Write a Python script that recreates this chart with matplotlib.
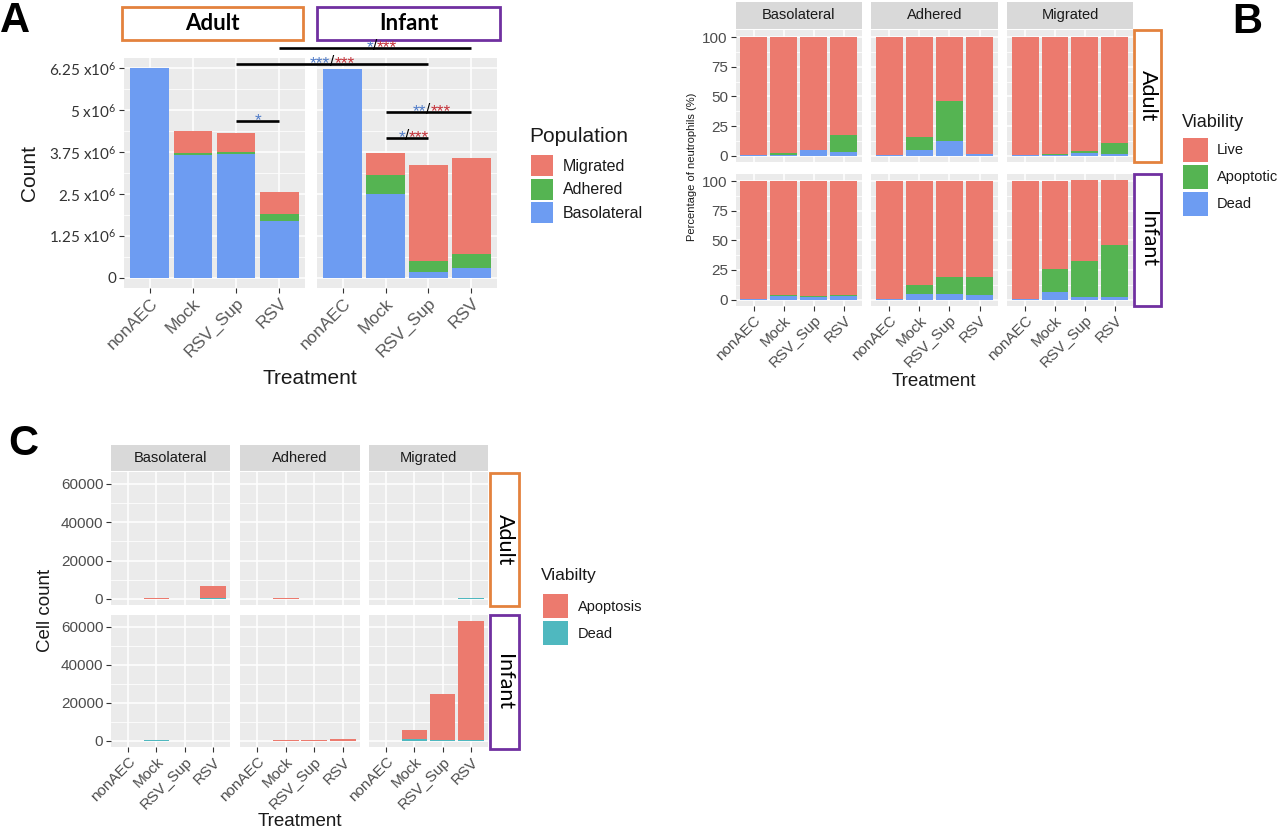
import numpy as np
import matplotlib.pyplot as plt
from matplotlib.patches import Rectangle

plt.rcParams['font.family'] = ['Liberation Sans', 'DejaVu Sans']
plt.rcParams['mathtext.default'] = 'regular'

W, H = 1280, 832

treatments = ["nonAEC", "Mock", "RSV_Sup", "RSV"]
groups = ["Adult", "Infant"]
locations = ["Basolateral", "Adhered", "Migrated"]

# Panel A: neutrophil counts (x10^6), stacked by population
a_baso = {"Adult": [6.25, 3.66, 3.68, 1.70], "Infant": [6.24, 2.49, 0.17, 0.29]}
a_adh = {"Adult": [0.0, 0.07, 0.06, 0.20], "Infant": [0.0, 0.57, 0.32, 0.42]}
a_mig = {"Adult": [0.0, 0.65, 0.58, 0.65], "Infant": [0.0, 0.65, 2.87, 2.87]}
a_ticks = [0, 1.25, 2.5, 3.75, 5, 6.25]
a_ticklabels = ["0", "1.25 x10$^{6}$", "2.5 x10$^{6}$", "3.75 x10$^{6}$", "5 x10$^{6}$", "6.25 x10$^{6}$"]

# significance bars: (group start, treatment start, group end, treatment end, height, blue stars, red stars)
sig_bars = [
    ("Adult", "RSV_Sup", "Adult", "RSV", 4.67, "*", ""),
    ("Adult", "RSV", "Infant", "RSV", 6.85, "*", "***"),
    ("Adult", "RSV_Sup", "Infant", "RSV_Sup", 6.39, "***", "***"),
    ("Infant", "Mock", "Infant", "RSV", 4.95, "**", "***"),
    ("Infant", "Mock", "Infant", "RSV_Sup", 4.17, "*", "***"),
]

# Panel B: percentage of neutrophils by viability
b_dead = {
    "Adult": {"Basolateral": [0.6, 0.6, 4.7, 3.0], "Adhered": [0.6, 4.7, 12.5, 1.4], "Migrated": [0.6, 0.6, 2.0, 1.4]},
    "Infant": {"Basolateral": [0.8, 2.8, 1.9, 2.8], "Adhered": [0.8, 4.4, 4.4, 3.6], "Migrated": [0.8, 6.1, 2.5, 2.5]},
}
b_apo = {
    "Adult": {"Basolateral": [0.1, 1.6, 0.5, 14.8], "Adhered": [0.0, 10.8, 33.9, 0.0], "Migrated": [0.0, 0.8, 2.2, 9.4]},
    "Infant": {"Basolateral": [0.0, 1.1, 0.9, 1.1], "Adhered": [0.0, 8.1, 14.8, 15.0], "Migrated": [0.0, 19.9, 30.0, 43.9]},
}
b_live = {
    "Adult": {"Basolateral": [99.3, 97.8, 94.8, 82.7], "Adhered": [99.4, 84.5, 53.6, 98.6], "Migrated": [99.4, 98.6, 95.8, 89.7]},
    "Infant": {"Basolateral": [99.2, 96.1, 97.2, 96.1], "Adhered": [99.2, 87.5, 80.8, 81.4], "Migrated": [99.2, 74.0, 68.9, 55.0]},
}

# Panel C: cell counts of non-viable neutrophils
c_apo = {
    "Adult": {"Basolateral": [0, 300, 0, 6000], "Adhered": [0, 300, 0, 0], "Migrated": [0, 0, 0, 200]},
    "Infant": {"Basolateral": [0, 0, 0, 0], "Adhered": [0, 500, 500, 1100], "Migrated": [0, 4800, 24500, 62600]},
}
c_dead = {
    "Adult": {"Basolateral": [0, 0, 0, 500], "Adhered": [0, 0, 0, 0], "Migrated": [0, 0, 0, 500]},
    "Infant": {"Basolateral": [0, 400, 0, 0], "Adhered": [0, 0, 0, 0], "Migrated": [0, 900, 300, 400]},
}

RED, GREEN, BLUE, TEAL = "#EC7A6E", "#55B452", "#6D9CF2", "#4FB8BF"
PANEL, STRIP = "#EBEBEB", "#D9D9D9"
ORANGE, PURPLE = "#E3823D", "#7030A0"
STAR_BLUE, STAR_RED = "#4F7BC8", "#C43038"

fig = plt.figure(figsize=(W / 100, H / 100), dpi=100)


def px_ax(x0, y0, x1, y1):
    return fig.add_axes([x0 / W, 1 - y1 / H, (x1 - x0) / W, (y1 - y0) / H])


def style(ax, ymax, major, minor, show_x, show_y, fs):
    ax.set_facecolor(PANEL)
    for s in ax.spines.values():
        s.set_visible(False)
    ax.set_xlim(-0.6, len(treatments) - 0.4)
    ax.set_ylim(-0.05 * ymax, 1.05 * ymax)
    ax.set_xticks(range(len(treatments)))
    ax.set_yticks(major)
    ax.set_yticks(minor, minor=True)
    ax.grid(True, which="major", color="white", lw=1.1)
    ax.grid(True, which="minor", axis="y", color="white", lw=0.55)
    ax.set_axisbelow(True)
    ax.tick_params(which="minor", length=0)
    ax.tick_params(which="major", color="#333333", length=3.5, width=0.8,
                   labelcolor="#4D4D4D", pad=2, labelsize=fs)
    if show_x:
        ax.set_xticklabels(treatments, rotation=45, ha="right", rotation_mode="anchor")
    else:
        ax.tick_params(axis="x", length=0, labelbottom=False)
    if not show_y:
        ax.tick_params(axis="y", length=0, labelleft=False)


x = np.arange(len(treatments))

# ---------- Panel A ----------
axA = {"Adult": px_ax(124, 58, 305, 288), "Infant": px_ax(317, 58, 497, 288)}
a_max = max((np.array(a_baso[g]) + np.array(a_adh[g]) + np.array(a_mig[g])).max() for g in groups)
for g in groups:
    ax = axA[g]
    bas, adh, mig = np.array(a_baso[g]), np.array(a_adh[g]), np.array(a_mig[g])
    ax.bar(x, bas, width=0.9, color=BLUE)
    ax.bar(x, adh, bottom=bas, width=0.9, color=GREEN)
    ax.bar(x, mig, bottom=bas + adh, width=0.9, color=RED)
    style(ax, a_max, a_ticks, np.arange(0.625, 6.6, 1.25), True, g == "Adult", 12.5)
    ax.tick_params(axis="x", labelcolor="#5A5A5A")
axA["Adult"].set_yticklabels(a_ticklabels, family="Lato", fontsize=11, color="#333333")

# ---------- Panel B ----------
b_cols = [(735.5, 861.8), (871.3, 997.6), (1007.2, 1132.7)]
b_rows = [(29.5, 161.7), (173.5, 305.5)]
b_max = 101.4
for r, g in enumerate(groups):
    for c, loc in enumerate(locations):
        ax = px_ax(b_cols[c][0], b_rows[r][0], b_cols[c][1], b_rows[r][1])
        d, a, l = np.array(b_dead[g][loc]), np.array(b_apo[g][loc]), np.array(b_live[g][loc])
        ax.bar(x, d, width=0.9, color=BLUE)
        ax.bar(x, a, bottom=d, width=0.9, color=GREEN)
        ax.bar(x, l, bottom=d + a, width=0.9, color=RED)
        style(ax, b_max, [0, 25, 50, 75, 100], [12.5, 37.5, 62.5, 87.5], r == 1, c == 0, 11)

# ---------- Panel C ----------
c_cols = [(111, 230), (240, 360), (369, 488)]
c_rows = [(472, 605), (615, 747)]
c_max = max((np.array(c_apo[g][l]) + np.array(c_dead[g][l])).max() for g in groups for l in locations)
for r, g in enumerate(groups):
    for c, loc in enumerate(locations):
        ax = px_ax(c_cols[c][0], c_rows[r][0], c_cols[c][1], c_rows[r][1])
        d, a = np.array(c_dead[g][loc]), np.array(c_apo[g][loc])
        ax.bar(x, d, width=0.9, color=TEAL)
        ax.bar(x, a, bottom=d, width=0.9, color=RED)
        style(ax, c_max, [0, 20000, 40000, 60000], [10000, 30000, 50000], r == 1, c == 0, 11)
        if c == 0:
            ax.set_yticklabels(["0", "20000", "40000", "60000"])

# ---------- overlay in pixel coordinates ----------
ov = fig.add_axes([0, 0, 1, 1])
ov.set_xlim(0, W)
ov.set_ylim(H, 0)
ov.axis("off")
ov.patch.set_alpha(0)


def to_px(ax, xv, yv):
    return ov.transData.inverted().transform(ax.transData.transform((xv, yv)))


# significance bars
for g0, t0, g1, t1, hgt, blue, red in sig_bars:
    x0, y0 = to_px(axA[g0], treatments.index(t0), hgt)
    x1, _ = to_px(axA[g1], treatments.index(t1), hgt)
    ov.plot([x0, x1], [y0, y0], color="black", lw=1.9, solid_capstyle="butt")
    mx = (x0 + x1) / 2
    if red:
        ov.text(mx - 2, y0 + 4, blue, color=STAR_BLUE, ha="right", va="baseline", fontsize=12.5)
        ov.text(mx, y0 - 2, "/", color="black", ha="center", va="center", fontsize=11)
        ov.text(mx + 2, y0 + 4, red, color=STAR_RED, ha="left", va="baseline", fontsize=12.5)
    else:
        ov.text(mx, y0 + 4, blue, color=STAR_BLUE, ha="center", va="baseline", fontsize=12.5)


def box(x0, y0, x1, y1, color, label, rot, fs, weight):
    ov.add_patch(Rectangle((x0, y0), x1 - x0, y1 - y0, facecolor="white", edgecolor=color, lw=2))
    ov.text((x0 + x1) / 2, (y0 + y1) / 2, label, ha="center", va="center", rotation=rot,
            fontsize=fs, fontweight=weight, family="Lato")


box(122, 7, 303, 40, ORANGE, "Adult", 0, 16, "bold")
box(317, 7, 500, 40, PURPLE, "Infant", 0, 16, "bold")
box(1134, 29.5, 1161, 161.7, ORANGE, "Adult", -90, 15.5, "normal")
box(1134, 173.5, 1161, 305.5, PURPLE, "Infant", -90, 15.5, "normal")
box(490, 473, 519, 606, ORANGE, "Adult", -90, 15.5, "normal")
box(490, 615, 519, 749, PURPLE, "Infant", -90, 15.5, "normal")

# facet strips
for c, loc in enumerate(locations):
    for (xa, xb), (ya, yb) in [(b_cols[c], (2, 28.5)), (c_cols[c], (445, 471))]:
        ov.add_patch(Rectangle((xa, ya), xb - xa, yb - ya, facecolor=STRIP, edgecolor="none"))
        ov.text((xa + xb) / 2, (ya + yb) / 2, loc, ha="center", va="center", fontsize=10.5, color="#1A1A1A")


def legend(title, tx, ty, fs_t, labels, colors, kx, ky0, ksize, kstep, lx, fs_l):
    ov.text(tx, ty, title, ha="left", va="baseline", fontsize=fs_t, color="#1A1A1A")
    for i, (lab, col) in enumerate(zip(labels, colors)):
        ky = ky0 + i * kstep
        ov.add_patch(Rectangle((kx, ky), ksize, ksize - 1, facecolor=col, edgecolor="none"))
        ov.text(lx, ky + ksize / 2, lab, ha="left", va="center", fontsize=fs_l, color="#1A1A1A")


legend("Population", 529, 142, 15, ["Migrated", "Adhered", "Basolateral"], [RED, GREEN, BLUE],
       531, 155, 22, 23.5, 563, 11.5)
legend("Viability", 1182, 127, 13, ["Live", "Apoptotic", "Dead"], [RED, GREEN, BLUE],
       1183, 138, 25, 27, 1217, 10.5)
legend("Viabilty", 541, 580, 12.5, ["Apoptosis", "Dead"], [RED, TEAL],
       543, 594, 25, 27, 578, 10.5)

# axis titles
ov.text(30, 173, "Count", rotation=90, ha="center", va="center", fontsize=15, color="#1A1A1A")
ov.text(310, 378, "Treatment", ha="center", va="center", fontsize=15, color="#1A1A1A")
ov.text(692, 167, "Percentage of neutrophils (%)", rotation=90, ha="center", va="center", fontsize=8, color="#1A1A1A")
ov.text(934, 381, "Treatment", ha="center", va="center", fontsize=13.5, color="#1A1A1A")
ov.text(46, 610, "Cell count", rotation=90, ha="center", va="center", fontsize=13.5, color="#1A1A1A")
ov.text(300, 822, "Treatment", ha="center", va="center", fontsize=13.5, color="#1A1A1A")

# panel letters
for letter, lx, ly in [("A", 0, 32), ("B", 1232, 33), ("C", 8, 455)]:
    ov.text(lx, ly, letter, ha="left", va="baseline", fontsize=30, fontweight="bold")

fig.savefig("out.png", dpi=100)
plt.close(fig)
